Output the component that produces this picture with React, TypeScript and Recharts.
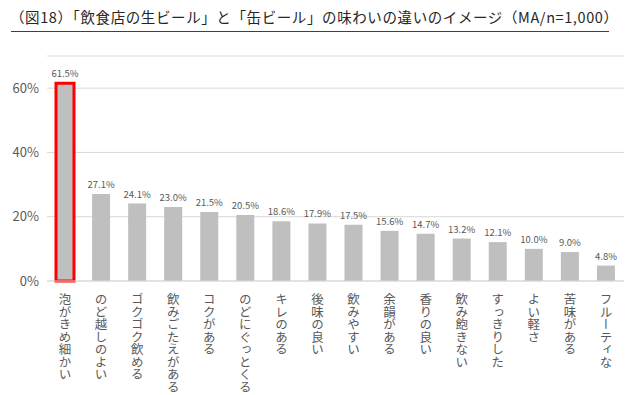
import React from 'react';
import { BarChart, Bar, XAxis, YAxis, CartesianGrid, LabelList, Cell } from 'recharts';

const categories = [
  '泡がきめ細かい', 'のど越しのよい', 'ゴクゴク飲める', '飲みごたえがある', 'コクがある',
  'のどにぐっとくる', 'キレのある', '後味の良い', '飲みやすい', '余韻がある',
  '香りの良い', '飲み飽きない', 'すっきりした', 'よい軽さ', '苦味がある', 'フルーティな',
];
const values = [61.5, 27.1, 24.1, 23.0, 21.5, 20.5, 18.6, 17.9, 17.5, 15.6, 14.7, 13.2, 12.1, 10.0, 9.0, 4.8];
const yTicks = [0, 20, 40, 60];
const title = '（図18）「飲食店の生ビール」と「缶ビール」の味わいの違いのイメージ（MA/n=1,000）';

const data = categories.map((name, i) => ({ name, value: values[i] }));

const FONT = '"Noto Sans CJK JP", "Noto Sans", sans-serif';

const VerticalTick = (props: any) => {
  const { x, y, payload } = props;
  return (
    <text
      x={x}
      y={y + 4}
      fill="#595959"
      fontSize={12.5}
      fontFamily={FONT}
      style={{ writingMode: 'vertical-rl' as any }}
      textAnchor="start"
    >
      {payload.value}
    </text>
  );
};

export default function App() {
  return (
    <div style={{ position: 'absolute', left: 0, top: 0, width: 636, height: 395, background: '#fff', fontFamily: FONT }}>
      <div
        style={{
          position: 'absolute', left: 10, top: 6, width: 600, textAlign: 'center',
          fontSize: 14.5, color: '#262626', whiteSpace: 'nowrap', letterSpacing: 0.6,
        }}
      >
        {title}
      </div>
      <div style={{ position: 'absolute', left: 11, top: 31, width: 598, height: 1, background: '#404040' }} />
      <BarChart
        width={636}
        height={395}
        data={data}
        margin={{ top: 56, right: 12, bottom: 4, left: 0 }}
        barCategoryGap="50%"
      >
        <CartesianGrid vertical={false} stroke="#d9d9d9" />
        <XAxis
          dataKey="name"
          interval={0}
          tick={<VerticalTick />}
          tickLine={false}
          axisLine={{ stroke: '#d9d9d9' }}
          height={110}
        />
        <YAxis
          domain={[0, 70]}
          ticks={yTicks}
          tickFormatter={(v: number) => `${v}%`}
          tick={{ fill: '#595959', fontSize: 13, fontFamily: FONT }}
          tickLine={false}
          axisLine={false}
          width={47}
        />
        <Bar dataKey="value" fill="#bfbfbf" barSize={18} isAnimationActive={false}>
          {data.map((d, i) => (
            <Cell key={d.name} fill="#bfbfbf" stroke={i === 0 ? '#ff0000' : 'none'} strokeWidth={i === 0 ? 3 : 0} />
          ))}
          <LabelList
            dataKey="value"
            position="top"
            offset={6}
            formatter={(v: number) => `${v.toFixed(1)}%`}
            style={{ fill: '#595959', fontSize: 9.5, fontFamily: FONT }}
          />
        </Bar>
      </BarChart>
    </div>
  );
}
